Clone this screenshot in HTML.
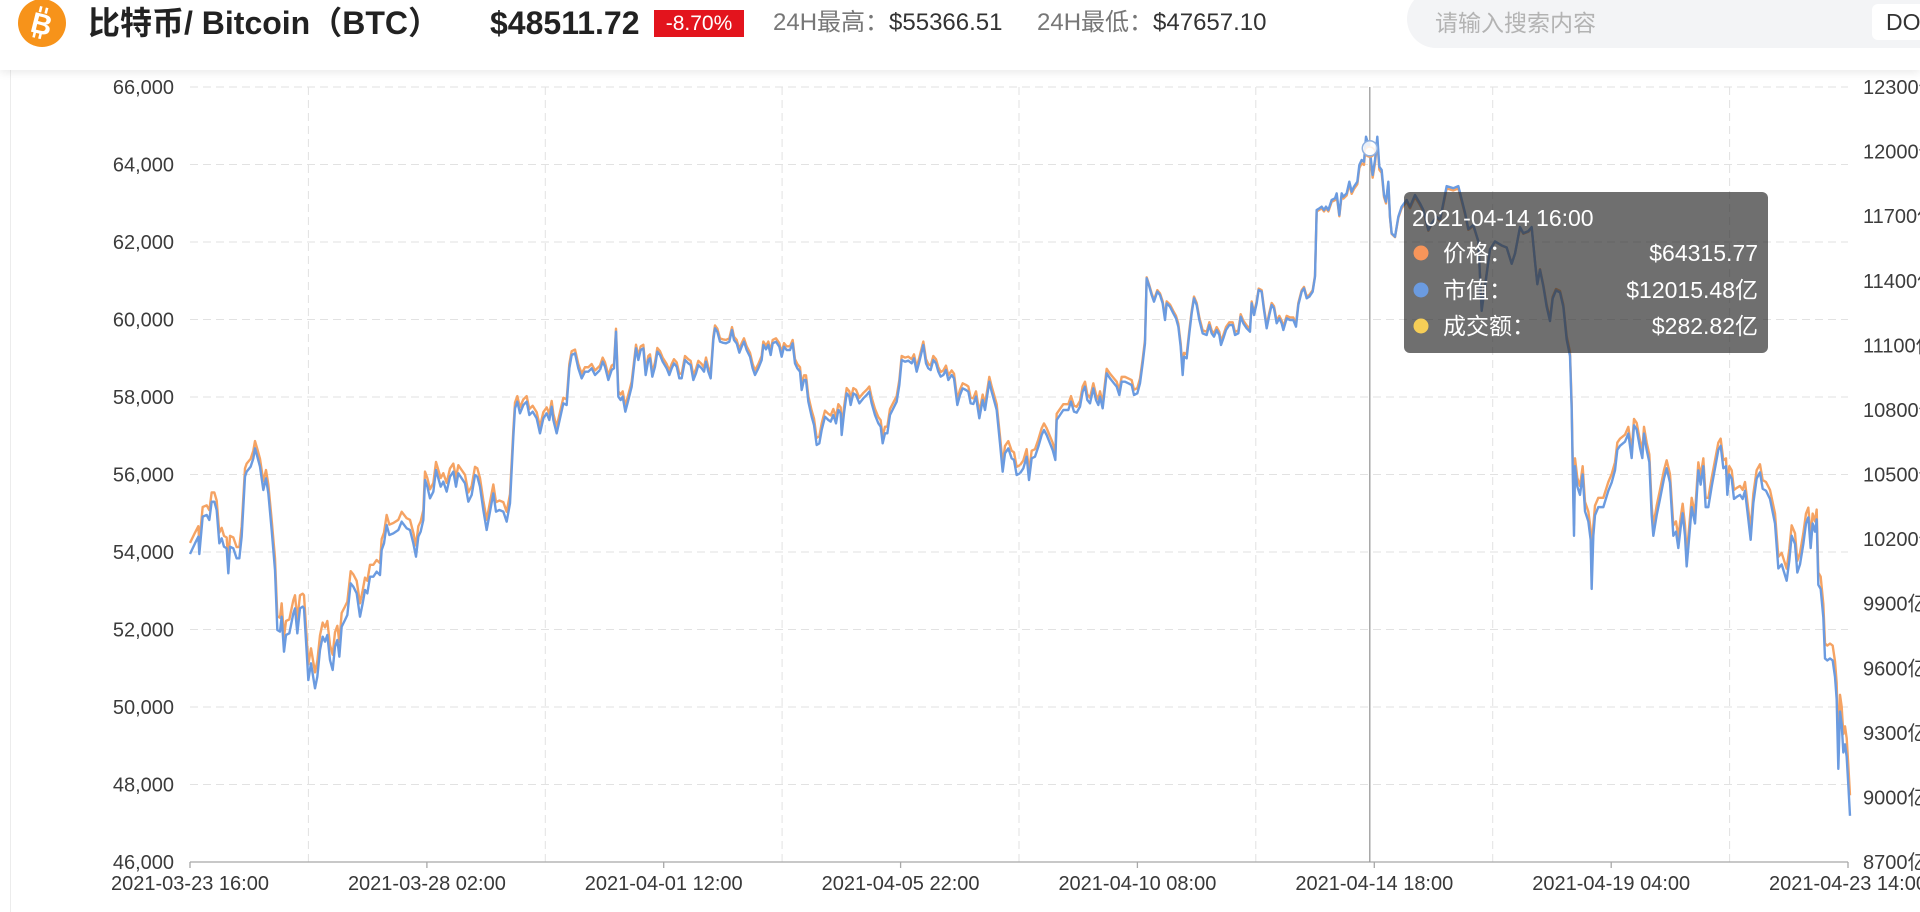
<!DOCTYPE html>
<html><head><meta charset="utf-8">
<style>
html,body{margin:0;padding:0;background:#fff;width:1920px;height:912px;overflow:hidden;font-family:"Liberation Sans","Noto Sans CJK SC",sans-serif;}
.hdr{position:absolute;left:0;top:0;width:1920px;height:70px;background:#fff;box-shadow:0 3px 8px rgba(0,0,0,0.08);z-index:2;}
.t{position:absolute;top:0;height:46px;line-height:46px;white-space:nowrap;}
.search{position:absolute;left:1407px;top:-10px;width:560px;height:58px;border-radius:29px;background:#f3f4f6;}
.do{position:absolute;left:1872px;top:4px;width:70px;height:36px;border-radius:6px;background:#fff;}
.card{position:absolute;left:10px;top:70px;width:1px;height:842px;background:#ececec;}
</style></head>
<body>
<div class="card"></div>
<svg width="1920" height="912" style="position:absolute;left:0;top:0;z-index:1" xmlns="http://www.w3.org/2000/svg" font-family="Liberation Sans, Noto Sans CJK SC, sans-serif">
<defs>
<g id="L" fill="none">
<polyline vector-effect="non-scaling-stroke" transform="translate(180,330) scale(0.333333)" points="30,672 45,640 55,620 58,672 68,560 80,555 88,570 95,515 103,515 110,540 118,640 125,625 132,650 140,655 145,730 150,650 160,655 170,685 178,685 185,620 195,440 200,425 212,410 220,385 225,355 232,380 240,410 250,480 258,445 265,490 275,600 285,720 292,900 300,905 305,860 312,965 318,915 328,910 340,850 345,835 352,910 360,835 368,830 372,835 380,965 385,1050 393,1000 405,1075 412,1040 420,960 428,920 435,935 442,915 450,990 458,1020 465,950 472,930 478,980 485,890 495,870 502,855 512,760 520,770 530,790 540,860 548,820 555,780 562,790 570,740 580,740 590,725 600,735 605,660 612,640 620,585 628,615 640,610 655,600 665,575 680,595 690,600 700,640 708,680 715,620 722,605 730,570 735,450 742,470 750,505 760,485 768,420 775,445 782,470 790,455 800,485 810,440 820,425 828,470 835,430 845,445 855,460 865,515 875,495 885,435 892,440 900,470 910,540 920,600 930,545 940,490 948,545 958,540 970,545 980,575 990,520 1000,320 1005,235 1012,215 1020,250 1030,225 1040,215 1048,255 1058,245 1070,265 1080,310 1090,265 1100,250 1108,270 1115,230 1120,270 1130,310 1140,265 1150,220 1160,225 1168,115 1175,75 1185,70 1195,115 1205,145 1215,125 1225,125 1235,115 1245,135 1260,120"/>
<polyline vector-effect="non-scaling-stroke" transform="translate(600,300) scale(0.333333)" points="0,210 8,185 15,200 25,240 35,210 42,205 48,95 55,290 62,300 68,290 76,335 85,300 95,260 108,145 115,180 122,150 130,145 137,225 145,180 150,175 157,230 165,200 172,155 180,165 188,185 200,205 208,225 215,205 222,190 230,200 238,235 245,235 255,180 265,190 272,195 280,240 288,220 295,195 305,205 312,215 318,185 325,215 332,235 340,120 345,85 352,95 360,125 368,128 378,130 388,125 396,90 402,120 410,130 418,158 425,140 432,125 440,150 450,170 458,205 465,225 475,205 485,180 490,135 498,148 505,135 512,165 518,130 528,125 538,140 545,170 552,140 560,150 570,150 578,130 585,190 592,205 600,215 605,270 612,240 618,240 625,305 635,350 642,375 650,435 658,430 665,390 675,350 685,360 692,365 700,345 708,370 715,330 722,340 725,405 732,340 740,280 748,290 752,315 760,280 768,285 778,310 790,295 800,285 808,275 815,310 825,345 835,370 842,380 848,430 855,400 862,400 870,345 880,325 890,305 898,255 905,180 915,185 925,182 935,190 942,175 950,215 958,185 970,135 978,190 985,205 992,210 1000,180 1008,190 1015,215 1022,230 1030,225 1038,210 1045,240 1055,225 1062,235 1072,315 1080,285 1088,265 1098,270 1105,275 1112,310 1120,312 1128,290 1138,355 1148,300 1155,330 1168,245 1175,275 1182,300 1190,330 1200,430 1208,515 1215,460 1225,445 1235,475 1242,480 1250,525 1260,520"/>
<polyline vector-effect="non-scaling-stroke" transform="translate(1010,110) scale(0.333333)" points="30,1090 40,1075 50,1040 57,1110 65,1045 75,1040 85,1010 95,975 102,960 110,975 120,1000 128,1020 136,1050 140,930 150,915 160,900 175,900 183,875 192,905 200,908 210,890 218,845 225,830 232,870 240,880 250,835 258,870 265,885 270,860 278,895 290,790 300,805 312,820 320,830 328,855 335,815 345,815 355,820 365,825 372,855 382,850 390,820 398,760 405,700 410,505 418,530 425,555 432,575 442,545 450,555 458,580 465,630 470,580 480,590 490,610 498,625 505,650 512,710 518,795 522,740 530,745 538,670 545,610 552,565 560,585 568,630 578,670 590,675 598,645 605,670 612,680 620,660 628,675 633,705 640,685 648,660 658,645 668,645 675,675 685,670 692,620 700,640 710,655 720,665 725,580 732,615 740,580 746,540 755,545 762,600 770,655 778,615 785,585 792,595 800,640 808,625 815,640 820,660 830,625 840,630 850,630 858,650 865,585 875,545 882,535 890,565 898,560 908,545 915,500 920,300 928,295 935,290 942,300 948,290 955,300 965,270 975,265 980,250 988,315 995,250 1000,260 1010,250 1018,215 1025,245 1032,230 1042,215 1048,165 1055,150 1062,155 1068,80 1074,100 1079,115 1084,160 1088,195 1095,150 1102,80 1108,170 1115,180 1122,255 1128,275 1135,215 1140,320 1145,370 1155,380 1165,320 1175,290 1190,270 1200,290 1215,255 1230,280 1240,300 1255,360 1265,340 1280,320 1290,330"/>
<polyline vector-effect="non-scaling-stroke" transform="translate(1440,180) scale(0.333333,0.40891)" points="0,98 20,15 40,20 55,15 75,80 85,120 100,110 115,150 125,320 135,260 150,170 165,150 185,160 200,165 215,205 225,180 240,115 250,130 265,125 275,115 285,200 292,255 300,220 310,260 320,310 330,345 338,290 348,270 360,275 370,310 380,390 390,430 395,560 398,700 402,870 405,700 412,750 420,770 428,720 435,810 445,835 452,880 455,1000 460,870 465,820 475,800 490,800 505,760 515,740 525,710 532,660 540,650 555,640 565,620 575,680 582,600 590,610 600,655 607,680 612,620 620,660 628,690 635,820 640,870 650,820 660,780 672,730 680,705 690,740 700,870 708,860 715,900 722,850 728,815 735,870 740,945 748,870 755,800 765,840 775,710 782,745 790,700 797,800 805,800 815,750 825,705 835,660 842,650 850,705 858,700 862,770 868,720 875,730 882,780 890,775 900,770 908,780 915,760 925,830 932,880 940,790 950,730 960,715 968,755 978,760 990,780 995,800 1005,840 1015,950 1025,940 1040,980 1048,930 1055,870 1065,890 1072,960 1080,940 1090,890 1098,840 1105,825 1112,900 1118,840 1125,860 1130,830 1135,990 1142,1000 1150,1070 1155,1170 1162,1175 1170,1170 1178,1175 1185,1215 1190,1270 1195,1440 1200,1300 1205,1330 1210,1400 1215,1380 1220,1410 1225,1480 1230,1555"/>
</g>
</defs>

<g stroke="#e2e2e2" stroke-width="1" stroke-dasharray="8 5">
<line x1="190" y1="87" x2="1848" y2="87"/>
<line x1="190" y1="164.5" x2="1848" y2="164.5"/>
<line x1="190" y1="242" x2="1848" y2="242"/>
<line x1="190" y1="319.5" x2="1848" y2="319.5"/>
<line x1="190" y1="397" x2="1848" y2="397"/>
<line x1="190" y1="474.5" x2="1848" y2="474.5"/>
<line x1="190" y1="552" x2="1848" y2="552"/>
<line x1="190" y1="629.5" x2="1848" y2="629.5"/>
<line x1="190" y1="707" x2="1848" y2="707"/>
<line x1="190" y1="784.5" x2="1848" y2="784.5"/>
<line x1="308.4" y1="87" x2="308.4" y2="862"/>
<line x1="545.3" y1="87" x2="545.3" y2="862"/>
<line x1="782.1" y1="87" x2="782.1" y2="862"/>
<line x1="1019" y1="87" x2="1019" y2="862"/>
<line x1="1255.8" y1="87" x2="1255.8" y2="862"/>
<line x1="1492.7" y1="87" x2="1492.7" y2="862"/>
<line x1="1729.6" y1="87" x2="1729.6" y2="862"/>
</g>

<g stroke="#a8a8a8" stroke-width="1.3">
<line x1="190" y1="862" x2="1848" y2="862"/>
<line x1="190" y1="862" x2="190" y2="868"/>
<line x1="426.9" y1="862" x2="426.9" y2="868"/>
<line x1="663.7" y1="862" x2="663.7" y2="868"/>
<line x1="900.6" y1="862" x2="900.6" y2="868"/>
<line x1="1137.4" y1="862" x2="1137.4" y2="868"/>
<line x1="1374.3" y1="862" x2="1374.3" y2="868"/>
<line x1="1611.2" y1="862" x2="1611.2" y2="868"/>
<line x1="1848" y1="862" x2="1848" y2="868"/>
</g>

<g font-size="20" fill="#3c3c3c" text-anchor="end">
<text x="174" y="94">66,000</text>
<text x="174" y="171.5">64,000</text>
<text x="174" y="249">62,000</text>
<text x="174" y="326.5">60,000</text>
<text x="174" y="404">58,000</text>
<text x="174" y="481.5">56,000</text>
<text x="174" y="559">54,000</text>
<text x="174" y="636.5">52,000</text>
<text x="174" y="714">50,000</text>
<text x="174" y="791.5">48,000</text>
<text x="174" y="869">46,000</text>
</g>

<g font-size="20" fill="#3c3c3c">
<text x="1863" y="94">12300亿</text>
<text x="1863" y="158.6">12000亿</text>
<text x="1863" y="223.2">11700亿</text>
<text x="1863" y="287.8">11400亿</text>
<text x="1863" y="352.3">11100亿</text>
<text x="1863" y="416.9">10800亿</text>
<text x="1863" y="481.5">10500亿</text>
<text x="1863" y="546.1">10200亿</text>
<text x="1863" y="610.7">9900亿</text>
<text x="1863" y="675.3">9600亿</text>
<text x="1863" y="739.8">9300亿</text>
<text x="1863" y="804.4">9000亿</text>
<text x="1863" y="869">8700亿</text>
</g>

<g font-size="20" fill="#383838" text-anchor="middle">
<text x="190" y="890">2021-03-23 16:00</text>
<text x="426.9" y="890">2021-03-28 02:00</text>
<text x="663.7" y="890">2021-04-01 12:00</text>
<text x="900.6" y="890">2021-04-05 22:00</text>
<text x="1137.4" y="890">2021-04-10 08:00</text>
<text x="1374.3" y="890">2021-04-14 18:00</text>
<text x="1611.2" y="890">2021-04-19 04:00</text>
<text x="1848" y="890">2021-04-23 14:00</text>
</g>

<line x1="1369.8" y1="87" x2="1369.8" y2="862" stroke="#9a9a9a" stroke-width="1.3"/>

<use href="#L" transform="matrix(1 0 0 0.9636 0 9.1)" stroke="#f5a363" stroke-width="2.4" stroke-linejoin="round"/>
<use href="#L" stroke="#6b9be0" stroke-width="2.4" stroke-linejoin="round"/>

<circle cx="1369.8" cy="152" r="5" fill="#fff" stroke="#f5a363" stroke-width="1.5"/>
<circle cx="1369.8" cy="148.3" r="7.5" fill="#fff" fill-opacity="0.85" stroke="#8fb0e0" stroke-width="1.5"/>

<rect x="1404" y="192" width="364" height="161" rx="6" fill="rgba(50,50,50,0.7)"/>
<g font-size="23" fill="#fff">
<text x="1412" y="226">2021-04-14 16:00</text>
<circle cx="1421" cy="253" r="7.5" fill="#f7955a"/>
<circle cx="1421" cy="290" r="7.5" fill="#6b9be0"/>
<circle cx="1421" cy="326" r="7.5" fill="#f6ce57"/>
<text x="1443" y="261">价格：</text>
<text x="1443" y="298">市值：</text>
<text x="1443" y="334">成交额：</text>
<text x="1758" y="261" text-anchor="end">$64315.77</text>
<text x="1758" y="298" text-anchor="end">$12015.48亿</text>
<text x="1758" y="334" text-anchor="end">$282.82亿</text>
</g>
</svg>

<div class="hdr">
  <svg width="60" height="50" style="position:absolute;left:12px;top:-2px" xmlns="http://www.w3.org/2000/svg">
    <circle cx="30" cy="25" r="24" fill="#f7931a"/>
    <g transform="rotate(14 30 25)" fill="#fff">
      <rect x="24" y="9" width="2.6" height="6"/>
      <rect x="30" y="9" width="2.6" height="6"/>
      <rect x="24" y="35" width="2.6" height="6"/>
      <rect x="30" y="35" width="2.6" height="6"/>
      <text x="30" y="36" font-family="Liberation Sans, sans-serif" font-weight="bold" font-size="29" text-anchor="middle">B</text>
    </g>
  </svg>
  <div class="t" style="left:88px;font-size:32px;font-weight:bold;color:#222;">比特币/ Bitcoin（BTC）</div>
  <div class="t" style="left:490px;font-size:32px;font-weight:bold;color:#222;">$48511.72</div>
  <div style="position:absolute;left:654px;top:10px;width:90px;height:27px;background:#e3141d;color:#fff;font-size:21px;line-height:27px;text-align:center;">-8.70%</div>
  <div class="t" style="left:773px;font-size:24px;color:#777;">24H最高：<span style="color:#333">$55366.51</span></div>
  <div class="t" style="left:1037px;font-size:24px;color:#777;">24H最低：<span style="color:#333">$47657.10</span></div>
  <div class="search"></div>
  <div class="t" style="left:1435px;font-size:23px;color:#b3b3b3;">请输入搜索内容</div>
  <div class="do"></div>
  <div class="t" style="left:1886px;font-size:23px;color:#333;top:-1px;">DO</div>
</div>
</body></html>
